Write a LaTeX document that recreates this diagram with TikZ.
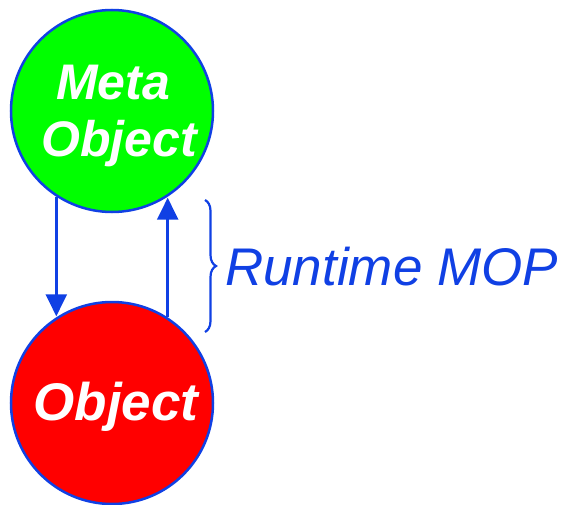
\documentclass[tikz,border=0pt]{standalone}
\usepackage{fontspec}
\setmainfont{Liberation Sans}
\usetikzlibrary{arrows.meta,decorations.pathreplacing}
\definecolor{edgeblue}{RGB}{16,64,228}
\definecolor{metagreen}{RGB}{0,255,0}
\definecolor{objred}{RGB}{255,0,0}
\tikzset{
  ball/.style={circle, draw=edgeblue, line width=2.5pt, minimum size=202pt, inner sep=0pt},
  balltext/.style={text=white, align=center, inner sep=0pt},
  link/.style={draw=edgeblue, line width=2.5pt, -{Triangle[length=22pt,width=21pt]}},
}
\begin{document}
\begin{tikzpicture}[x=1pt,y=-1pt]
  \useasboundingbox (0,0) rectangle (564,505);
  % the two levels
  \node[ball, fill=metagreen] (meta) at (112,111) {};
  \node[balltext, font=\bfseries\itshape\fontsize{50}{57}\selectfont, anchor=base]
    (metatext) at (119,157) {\hspace*{-12pt}Meta\\Object};
  \node[ball, fill=objred] (obj) at (112,403) {};
  \node[balltext, font=\bfseries\itshape\fontsize{53}{60}\selectfont, anchor=base]
    (objtext) at (116,420) {Object};
  % downward and upward calls
  \draw[link] (meta.237.7) -- (meta.237.7 |- obj.122.3);
  \draw[link] (obj.57.7) -- (obj.57.7 |- meta.302.3);
  % brace and its label
  \coordinate (bt) at (205,200);
  \coordinate (bb) at (205,332);
  \draw[edgeblue, line width=2.2pt, decorate, decoration={brace, amplitude=11pt}] (bt) -- (bb);
  \node[anchor=base west, inner sep=0pt, text=edgeblue, font=\itshape\fontsize{53}{60}\selectfont]
    (mop) at (225,285) {Runtime MOP};
\end{tikzpicture}
\end{document}
